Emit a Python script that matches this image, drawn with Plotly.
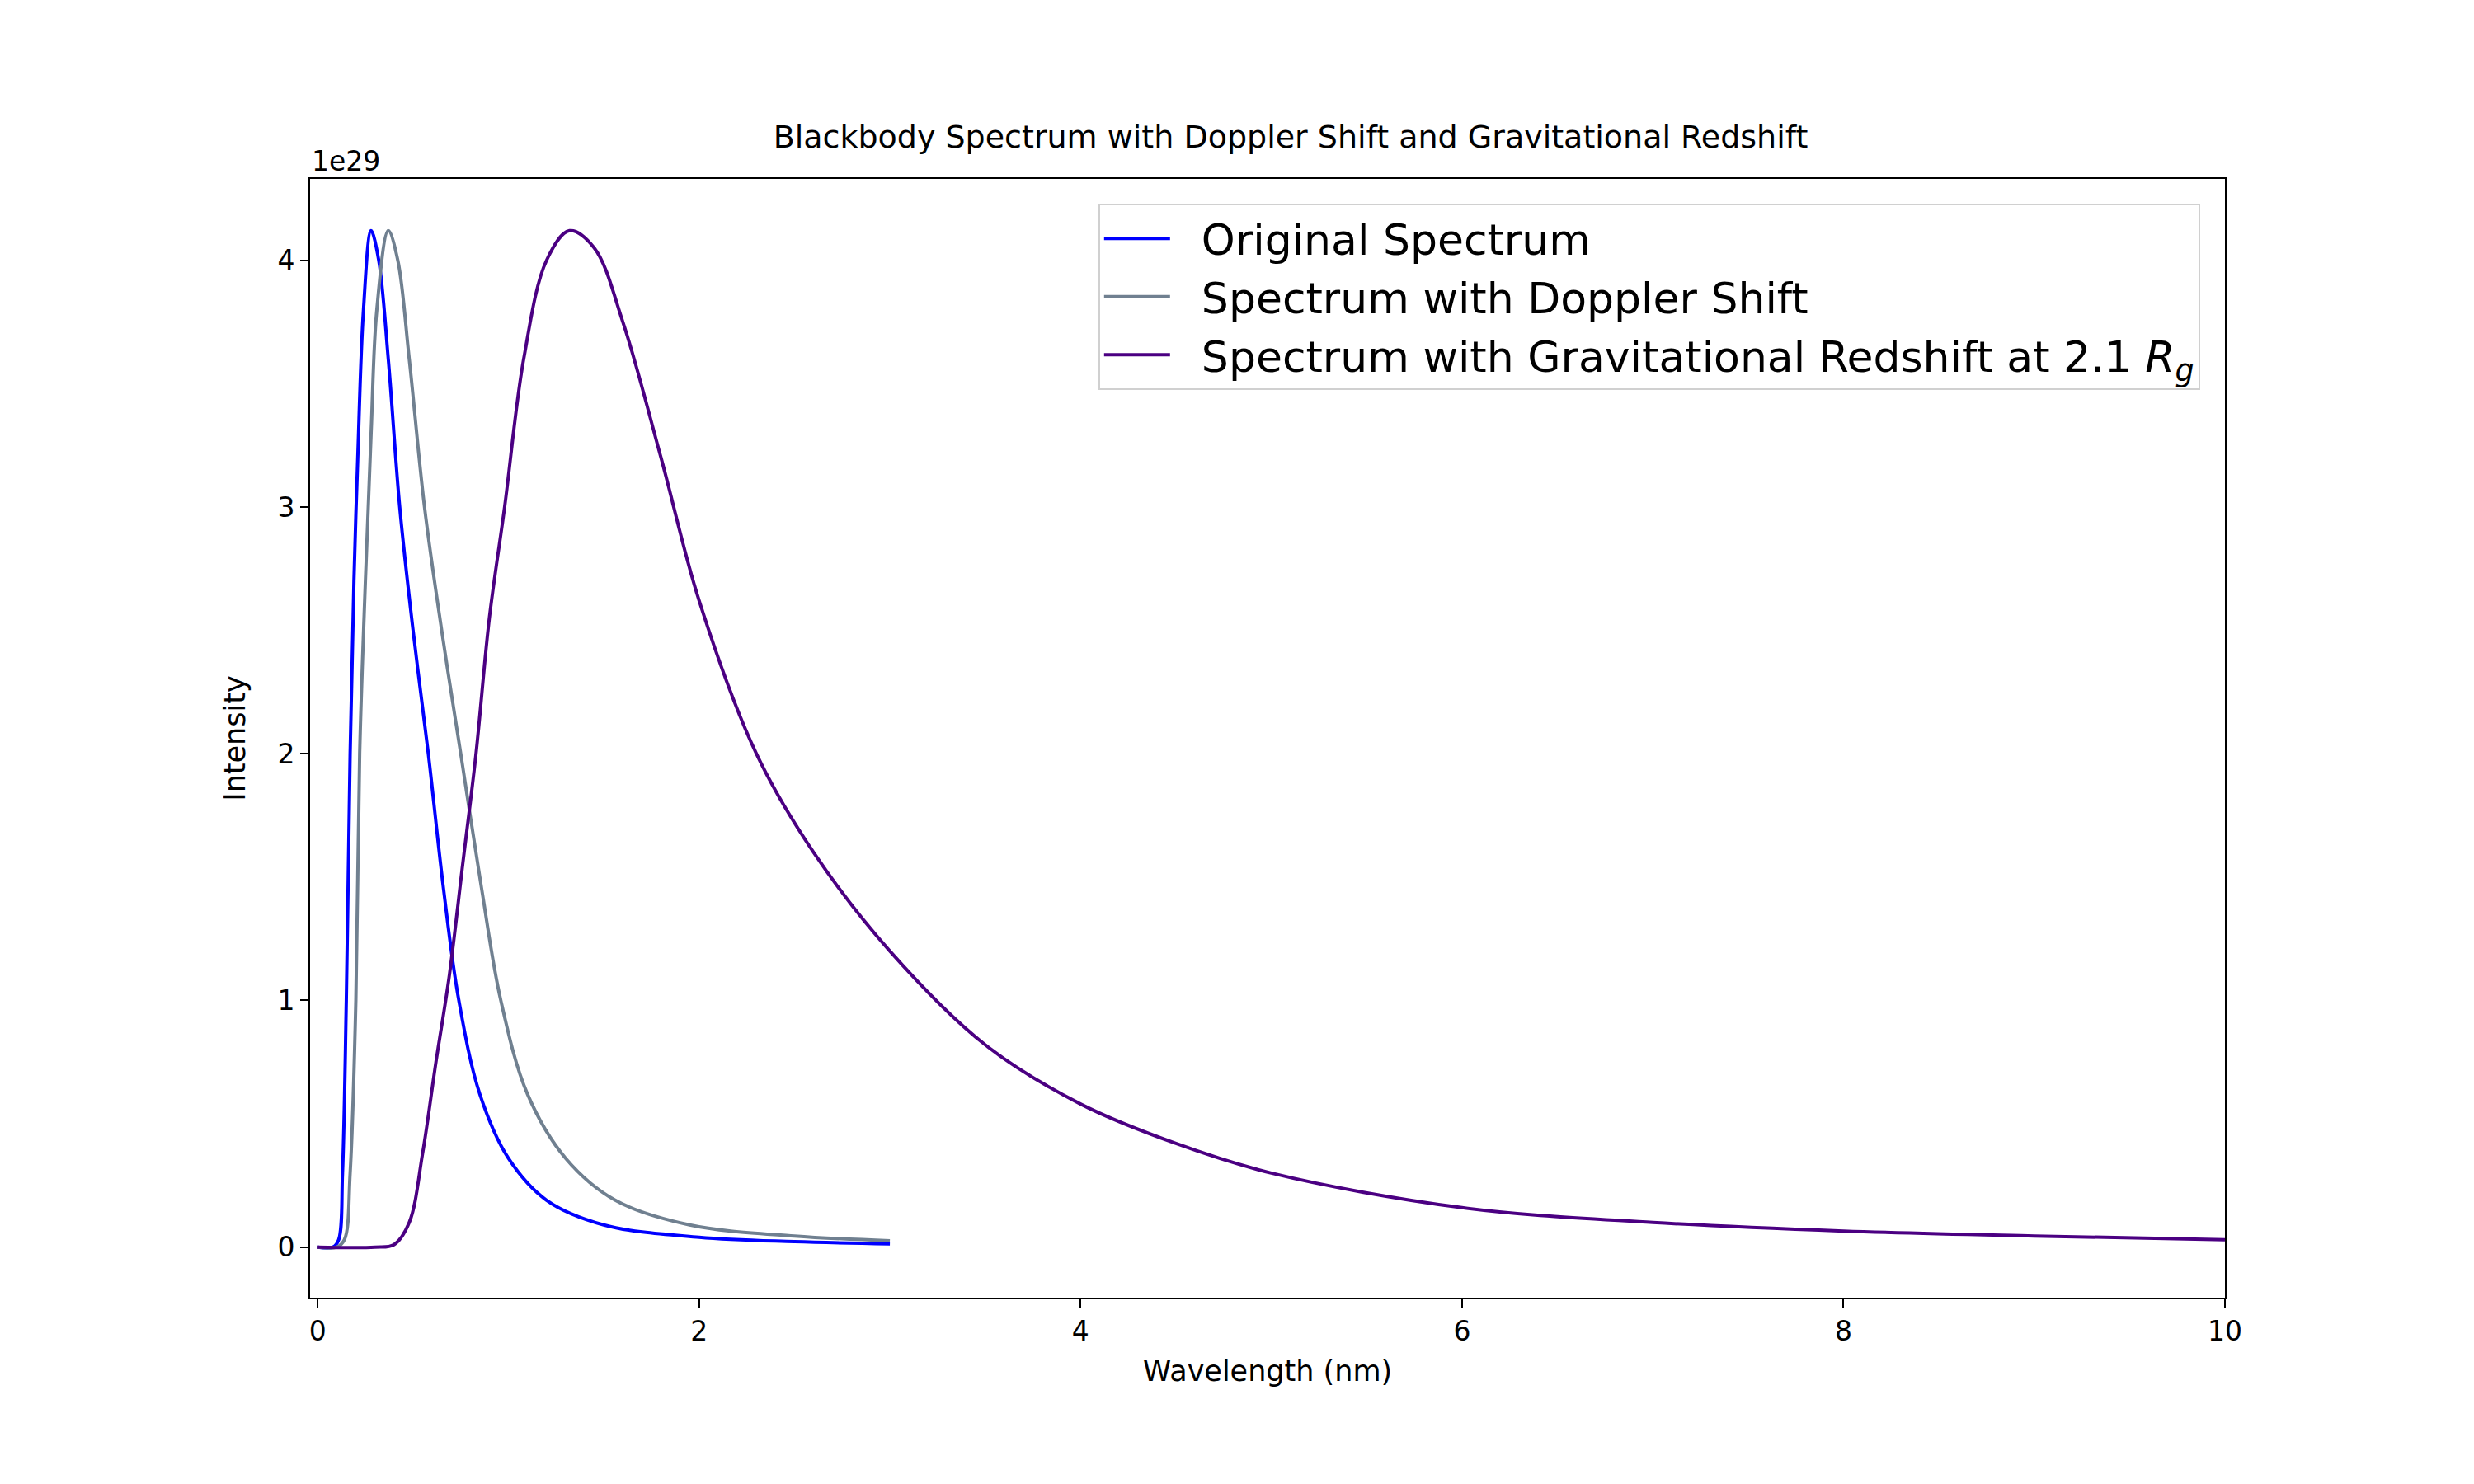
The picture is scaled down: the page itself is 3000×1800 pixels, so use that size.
import plotly.graph_objects as go

# Wavelength (nm) and intensity (units of 1e29)
orig_x = [0.0, 0.08, 0.11, 0.13, 0.15, 0.17, 0.19, 0.21, 0.24, 0.28, 0.32, 0.37, 0.43, 0.50, 0.58, 0.66, 0.74, 0.85, 1.0, 1.2, 1.5, 2.0, 2.5, 3.0]
orig_y = [0.0, 0.0, 0.03, 0.3, 1.0, 2.0, 2.7, 3.2, 3.8, 4.12, 4.0, 3.6, 3.0, 2.5, 2.0, 1.45, 1.0, 0.62, 0.36, 0.19, 0.09, 0.04, 0.022, 0.013]

dopp_x = [0.0, 0.1, 0.14, 0.17, 0.2, 0.22, 0.25, 0.28, 0.31, 0.37, 0.42, 0.48, 0.56, 0.65, 0.75, 0.86, 0.96, 1.1, 1.3, 1.56, 1.95, 2.5, 3.0]
dopp_y = [0.0, 0.0, 0.03, 0.3, 1.0, 2.0, 2.7, 3.3, 3.8, 4.12, 4.0, 3.6, 3.0, 2.5, 2.0, 1.45, 1.0, 0.62, 0.36, 0.19, 0.09, 0.045, 0.026]

grav_x = [0.0, 0.3, 0.4, 0.48, 0.55, 0.62, 0.69, 0.76, 0.83, 0.9, 0.98, 1.08, 1.2, 1.32, 1.45, 1.6, 1.8, 2.0, 2.3, 2.6, 3.0, 3.5, 4.0, 4.5, 5.0, 6.0, 7.0, 8.0, 9.0, 10.0]
grav_y = [0.0, 0.0, 0.01, 0.1, 0.38, 0.75, 1.1, 1.55, 2.0, 2.55, 3.0, 3.6, 4.0, 4.12, 4.05, 3.75, 3.2, 2.62, 2.0, 1.6, 1.2, 0.82, 0.58, 0.42, 0.3, 0.16, 0.1, 0.065, 0.045, 0.03]

line_style = dict(width=4, shape="spline", smoothing=1.0)

fig = go.Figure()
fig.add_trace(go.Scatter(x=orig_x, y=orig_y, mode="lines", name="  Original Spectrum",
                         line=dict(color="blue", **line_style)))
fig.add_trace(go.Scatter(x=dopp_x, y=dopp_y, mode="lines", name="  Spectrum with Doppler Shift",
                         line=dict(color="slategray", **line_style)))
fig.add_trace(go.Scatter(x=grav_x, y=grav_y, mode="lines",
                         name="  Spectrum with Gravitational Redshift at 2.1 <i>R</i><sub><i>g</i></sub>",
                         line=dict(color="indigo", **line_style)))

axis_common = dict(showgrid=False, zeroline=False, showline=True, linecolor="black", linewidth=2,
                   mirror=True, ticks="outside", ticklen=10, tickwidth=2, tickcolor="black",
                   tickfont=dict(size=33, color="black"))

fig.update_layout(
    width=3000, height=1800,
    template="none",
    plot_bgcolor="white", paper_bgcolor="white",
    font=dict(family="DejaVu Sans", color="black"),
    margin=dict(l=368, r=310, t=209, b=234),
    title=dict(text="Blackbody Spectrum with Doppler Shift and Gravitational Redshift",
               x=0.519, xanchor="center", y=0.905, yanchor="bottom", font=dict(size=38)),
    xaxis=dict(range=[-0.04, 10], tickvals=[0, 2, 4, 6, 8, 10],
               title=dict(text="Wavelength (nm)", font=dict(size=35), standoff=18), **axis_common),
    yaxis=dict(range=[-0.205, 4.33], tickvals=[0, 1, 2, 3, 4],
               title=dict(text="Intensity", font=dict(size=35), standoff=28), **axis_common),
    legend=dict(x=0.987, xanchor="right", y=0.978, yanchor="top", font=dict(size=52),
                bgcolor="white", bordercolor="#d0d0d0", borderwidth=2, itemwidth=80),
    showlegend=True,
)
fig.add_annotation(text="1e29", xref="paper", yref="paper", x=0, y=1.0, xanchor="left",
                   yanchor="bottom", showarrow=False, font=dict(size=33))

fig.write_html("out.html")
